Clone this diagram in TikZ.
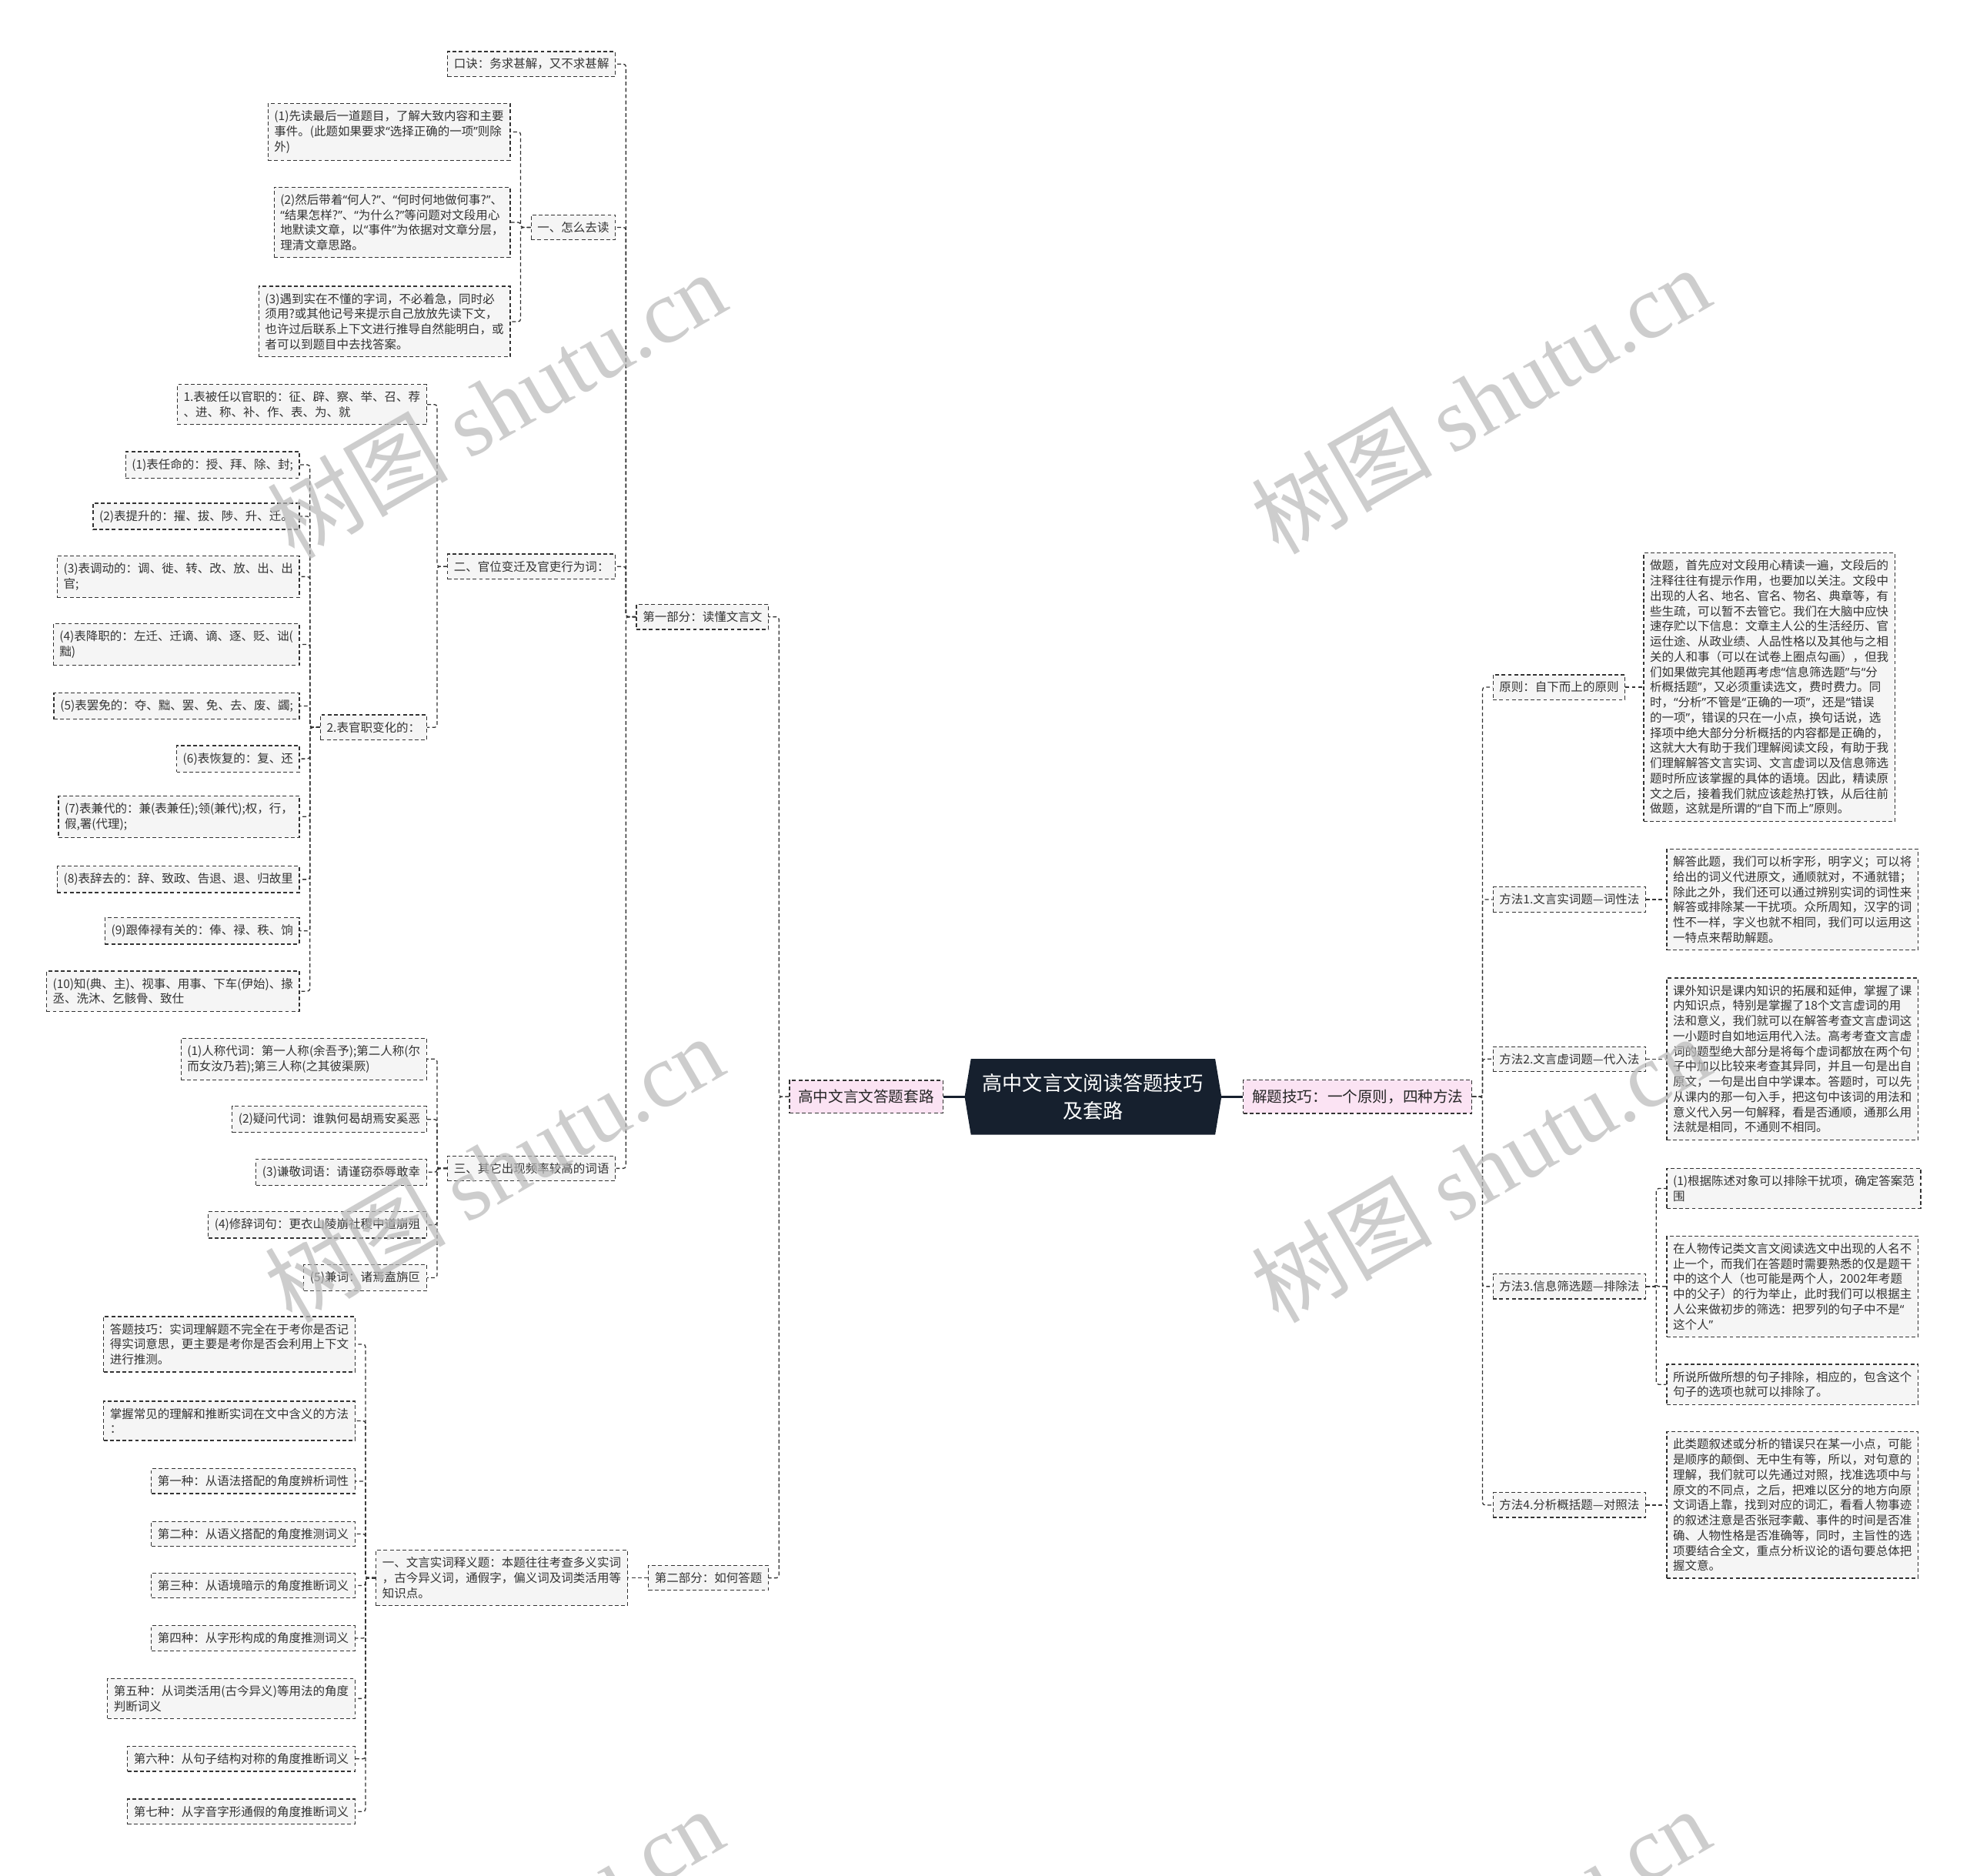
\documentclass[tikz,border=0pt]{standalone}
\usepackage{fontspec}
\setmainfont{Noto Sans CJK SC}
\newfontfamily\wmlat{Liberation Serif}
\newfontfamily\latq{Noto Sans}
\newcommand\myLQ{{\latq “}}
\newcommand\myRQ{{\latq ”}}
\usetikzlibrary{backgrounds,calc}
\definecolor{boxfill}{HTML}{F5F5F5}
\definecolor{linec}{HTML}{333333}
\definecolor{pinkf}{HTML}{FBE3F3}
\definecolor{navy}{HTML}{16202E}
\definecolor{txt}{HTML}{333333}
\tikzset{
  box/.style={draw=linec, fill=boxfill, dash pattern=on 3pt off 2pt, line width=0.8pt,
    inner xsep=5pt, inner ysep=5.5pt, align=left, text=txt,
    font=\fontsize{9.5}{12.1}\selectfont},
  pinkbox/.style={box, fill=pinkf, text=black!85, font=\fontsize{12}{14}\selectfont,
    inner xsep=7pt, inner ysep=7.5pt},
  lchild/.style={box, anchor=east, xshift=-16pt},
  rchild/.style={box, anchor=west, xshift=16pt},
  conn/.style={draw=linec, dash pattern=on 3pt off 2pt, line width=0.8pt, rounded corners=2pt},
  solidconn/.style={draw=navy, line width=1.6pt},
  wm/.style={rotate=30, text=black!28, text opacity=0.7, inner sep=0pt,
    font=\fontsize{72}{72}\selectfont}
}
\begin{document}
\begin{tikzpicture}[x=1pt,y=-1pt]
\useasboundingbox (0,0) rectangle (1568,1493);

% centre
\node[font=\fontsize{16}{22}\selectfont, text=white, align=center,
  minimum width=204pt, minimum height=60pt, inner sep=0pt] (c) at (870,873)
  {高中文言文阅读答题技巧\\及套路};

\node[pinkbox, anchor=east, xshift=-17pt] (L1) at (c.west) {高中文言文答题套路};
\node[pinkbox, anchor=west, xshift=17pt] (R1) at (c.east) {解题技巧：一个原则，四种方法};
\draw[solidconn] (c.west) -- (L1.east);
\draw[solidconn] (c.east) -- (R1.west);

% ---------- left ----------
\node[lchild] (P1) at (L1.west |- 0,491) {第一部分：读懂文言文};
\node[lchild] (P2) at (L1.west |- 0,1256) {第二部分：如何答题};
\draw[conn] (L1.west) -- ++(-8,0) |- (P1.east);
\draw[conn] (L1.west) -- ++(-8,0) |- (P2.east);

\node[lchild] (A1) at (P1.west |- 0,51) {口诀：务求甚解，又不求甚解};
\node[lchild] (A2) at (P1.west |- 0,181) {一、怎么去读};
\node[lchild] (A3) at (P1.west |- 0,451) {二、官位变迁及官吏行为词：};
\node[lchild] (A4) at (P1.west |- 0,930) {三、其它出现频率较高的词语};
\foreach \n in {A1,A2,A3,A4} \draw[conn] (P1.west) -- ++(-8,0) |- (\n.east);

\node[lchild] (A2a) at (A2.west |- 0,105) {(1)先读最后一道题目，了解大致内容和主要\\事件。(此题如果要求\myLQ 选择正确的一项\myRQ 则除\\外)};
\node[lchild] (A2b) at (A2.west |- 0,177) {(2)然后带着\myLQ 何人?\myRQ 、\myLQ 何时何地做何事?\myRQ 、\\\myLQ 结果怎样?\myRQ 、\myLQ 为什么?\myRQ 等问题对文段用心\\地默读文章，以\myLQ 事件\myRQ 为依据对文章分层，\\理清文章思路。};
\node[lchild] (A2c) at (A2.west |- 0,256) {(3)遇到实在不懂的字词，不必着急，同时必\\须用?或其他记号来提示自己放放先读下文，\\也许过后联系上下文进行推导自然能明白，或\\者可以到题目中去找答案。};
\foreach \n in {A2a,A2b,A2c} \draw[conn] (A2.west) -- ++(-8,0) |- (\n.east);

\node[lchild] (A3a) at (A3.west |- 0,322) {1.表被任以官职的：征、辟、察、举、召、荐\\、进、称、补、作、表、为、就};
\node[lchild] (A3b) at (A3.west |- 0,579) {2.表官职变化的：};
\foreach \n in {A3a,A3b} \draw[conn] (A3.west) -- ++(-8,0) |- (\n.east);

\node[lchild] (B01) at (A3b.west |- 0,370) {(1)表任命的：授、拜、除、封;};
\node[lchild] (B02) at (A3b.west |- 0,411) {(2)表提升的：擢、拔、陟、升、迁。};
\node[lchild] (B03) at (A3b.west |- 0,459) {(3)表调动的：调、徙、转、改、放、出、出\\官;};
\node[lchild] (B04) at (A3b.west |- 0,513) {(4)表降职的：左迁、迁谪、谪、逐、贬、诎(\\黜)};
\node[lchild] (B05) at (A3b.west |- 0,562) {(5)表罢免的：夺、黜、罢、免、去、废、蠲;};
\node[lchild] (B06) at (A3b.west |- 0,604) {(6)表恢复的：复、还};
\node[lchild] (B07) at (A3b.west |- 0,650) {(7)表兼代的：兼(表兼任);领(兼代);权，行，\\假,署(代理);};
\node[lchild] (B08) at (A3b.west |- 0,700) {(8)表辞去的：辞、致政、告退、退、归故里};
\node[lchild] (B09) at (A3b.west |- 0,741) {(9)跟俸禄有关的：俸、禄、秩、饷};
\node[lchild] (B10) at (A3b.west |- 0,789) {(10)知(典、主)、视事、用事、下车(伊始)、掾\\丞、洗沐、乞骸骨、致仕};
\foreach \n in {B01,B02,B03,B04,B05,B06,B07,B08,B09,B10}
  \draw[conn] (A3b.west) -- ++(-8,0) |- (\n.east);

\node[lchild] (A4a) at (A4.west |- 0,843) {(1)人称代词：第一人称(余吾予);第二人称(尔\\而女汝乃若);第三人称(之其彼渠厥)};
\node[lchild] (A4b) at (A4.west |- 0,891) {(2)疑问代词：谁孰何曷胡焉安奚恶};
\node[lchild] (A4c) at (A4.west |- 0,933) {(3)谦敬词语：请谨窃忝辱敢幸};
\node[lchild] (A4d) at (A4.west |- 0,975) {(4)修辞词句：更衣山陵崩社稷中道崩殂};
\node[lchild] (A4e) at (A4.west |- 0,1017) {(5)兼词：诸焉盍旃叵};
\foreach \n in {A4a,A4b,A4c,A4d,A4e} \draw[conn] (A4.west) -- ++(-8,0) |- (\n.east);

\node[lchild] (Q1) at (P2.west |- 0,1256) {一、文言实词释义题：本题往往考查多义实词\\，古今异义词，通假字，偏义词及词类活用等\\知识点。};
\draw[conn] (P2.west) -- (Q1.east);

\node[lchild] (Q1a) at (Q1.west |- 0,1070) {答题技巧：实词理解题不完全在于考你是否记\\得实词意思，更主要是考你是否会利用上下文\\进行推测。};
\node[lchild] (Q1b) at (Q1.west |- 0,1131) {掌握常见的理解和推断实词在文中含义的方法\\：};
\node[lchild] (Q1c) at (Q1.west |- 0,1179) {第一种：从语法搭配的角度辨析词性};
\node[lchild] (Q1d) at (Q1.west |- 0,1221) {第二种：从语义搭配的角度推测词义};
\node[lchild] (Q1e) at (Q1.west |- 0,1262) {第三种：从语境暗示的角度推断词义};
\node[lchild] (Q1f) at (Q1.west |- 0,1304) {第四种：从字形构成的角度推测词义};
\node[lchild] (Q1g) at (Q1.west |- 0,1352) {第五种：从词类活用(古今异义)等用法的角度\\判断词义};
\node[lchild] (Q1h) at (Q1.west |- 0,1400) {第六种：从句子结构对称的角度推断词义};
\node[lchild] (Q1i) at (Q1.west |- 0,1442) {第七种：从字音字形通假的角度推断词义};
\foreach \n in {Q1a,Q1b,Q1c,Q1d,Q1e,Q1f,Q1g,Q1h,Q1i}
  \draw[conn] (Q1.west) -- ++(-8,0) |- (\n.east);

% ---------- right ----------
\node[rchild] (R2) at (R1.east |- 0,547) {原则：自下而上的原则};
\node[rchild] (R3) at (R1.east |- 0,716) {方法1.文言实词题—词性法};
\node[rchild] (R4) at (R1.east |- 0,843) {方法2.文言虚词题—代入法};
\node[rchild] (R5) at (R1.east |- 0,1024) {方法3.信息筛选题—排除法};
\node[rchild] (R6) at (R1.east |- 0,1198) {方法4.分析概括题—对照法};
\foreach \n in {R2,R3,R4,R5,R6} \draw[conn] (R1.east) -- ++(8,0) |- (\n.west);

\node[box, anchor=west, xshift=14pt] (R2t) at (R2.east) {做题，首先应对文段用心精读一遍，文段后的\\注释往往有提示作用，也要加以关注。文段中\\出现的人名、地名、官名、物名、典章等，有\\些生疏，可以暂不去管它。我们在大脑中应快\\速存贮以下信息：文章主人公的生活经历、官\\运仕途、从政业绩、人品性格以及其他与之相\\关的人和事（可以在试卷上圈点勾画），但我\\们如果做完其他题再考虑\myLQ 信息筛选题\myRQ 与\myLQ 分\\析概括题\myRQ ，又必须重读选文，费时费力。同\\时，\myLQ 分析\myRQ 不管是\myLQ 正确的一项\myRQ ，还是\myLQ 错误\\的一项\myRQ ，错误的只在一小点，换句话说，选\\择项中绝大部分分析概括的内容都是正确的，\\这就大大有助于我们理解阅读文段，有助于我\\们理解解答文言实词、文言虚词以及信息筛选\\题时所应该掌握的具体的语境。因此，精读原\\文之后，接着我们就应该趁热打铁，从后往前\\做题，这就是所谓的\myLQ 自下而上\myRQ 原则。};
\draw[conn] (R2.east) -- (R2t.west);

\node[rchild] (R3t) at (R3.east) {解答此题，我们可以析字形，明字义；可以将\\给出的词义代进原文，通顺就对，不通就错；\\除此之外，我们还可以通过辨别实词的词性来\\解答或排除某一干扰项。众所周知，汉字的词\\性不一样，字义也就不相同，我们可以运用这\\一特点来帮助解题。};
\draw[conn] (R3.east) -- (R3t.west);

\node[rchild] (R4t) at (R4.east) {课外知识是课内知识的拓展和延伸，掌握了课\\内知识点，特别是掌握了18个文言虚词的用\\法和意义，我们就可以在解答考查文言虚词这\\一小题时自如地运用代入法。高考考查文言虚\\词的题型绝大部分是将每个虚词都放在两个句\\子中加以比较来考查其异同，并且一句是出自\\原文，一句是出自中学课本。答题时，可以先\\从课内的那一句入手，把这句中该词的用法和\\意义代入另一句解释，看是否通顺，通那么用\\法就是相同，不通则不相同。};
\draw[conn] (R4.east) -- (R4t.west);

\node[rchild] (R5a) at (R5.east |- 0,946) {(1)根据陈述对象可以排除干扰项，确定答案范\\围};
\node[rchild] (R5b) at (R5.east |- 0,1024) {在人物传记类文言文阅读选文中出现的人名不\\止一个，而我们在答题时需要熟悉的仅是题干\\中的这个人（也可能是两个人，2002年考题\\中的父子）的行为举止，此时我们可以根据主\\人公来做初步的筛选：把罗列的句子中不是\myLQ\\这个人\myRQ};
\node[rchild] (R5c) at (R5.east |- 0,1102) {所说所做所想的句子排除，相应的，包含这个\\句子的选项也就可以排除了。};
\foreach \n in {R5a,R5b,R5c} \draw[conn] (R5.east) -- ++(8,0) |- (\n.west);

\node[rchild] (R6t) at (R6.east) {此类题叙述或分析的错误只在某一小点，可能\\是顺序的颠倒、无中生有等，所以，对句意的\\理解，我们就可以先通过对照，找准选项中与\\原文的不同点，之后，把难以区分的地方向原\\文词语上靠，找到对应的词汇，看看人物事迹\\的叙述注意是否张冠李戴、事件的时间是否准\\确、人物性格是否准确等，同时，主旨性的选\\项要结合全文，重点分析议论的语句要总体把\\握文意。};
\draw[conn] (R6.east) -- (R6t.west);

% background and centre shape
\begin{scope}[on background layer]
\fill[white] (0,0) rectangle (1568,1493);
\fill[navy] (c.west) -- ([xshift=5pt]c.north west) -- ([xshift=-5pt]c.north east)
  -- (c.east) -- ([xshift=-5pt]c.south east) -- ([xshift=5pt]c.south west) -- cycle;
\end{scope}

% watermarks
\foreach \wx/\wy [count=\i] in {395/322, 1178/318, 393/930, 1178/930, 393/1545, 1178/1545}
  \node[wm] (wm\i) at (\wx,\wy) {树图 {\wmlat shutu.cn}};
\end{tikzpicture}
\end{document}
